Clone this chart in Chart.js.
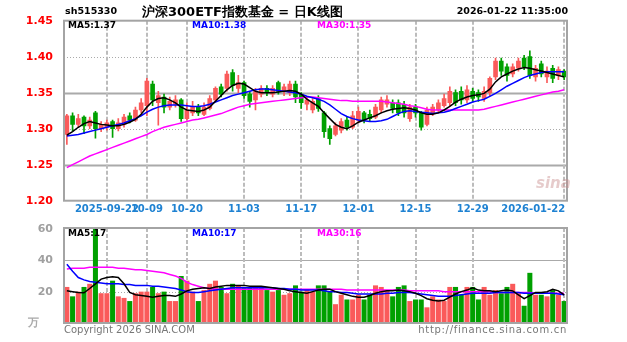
<!DOCTYPE html>
<html>
<head>
<meta charset="utf-8">
<script src="https://cdn.jsdelivr.net/npm/chart.js@4.4.1/dist/chart.umd.min.js"></script>
<style>
  body { margin: 0; background: #fff; }
  #wrap { position: relative; width: 627px; height: 342px; overflow: hidden; font-family: "DejaVu Sans", sans-serif; }
  canvas { position: absolute; left: 0; top: 0; }
  .txt { position: absolute; white-space: nowrap; font-weight: bold; line-height: 1; }
</style>
</head>
<body>
<div id="wrap">
  <canvas id="kline" width="627" height="342"></canvas>
  <canvas id="vol" width="627" height="342"></canvas>

  <div class="txt" style="left:65px;top:6px;font-size:9.5px;color:#000">sh515330</div>
  <div class="txt" style="left:142px;top:5px;font-size:13px;color:#000">沪深300ETF指数基金 = 日K线图</div>
  <div class="txt" style="right:59px;top:6px;font-size:9.5px;color:#000">2026-01-22 11:35:00</div>

  <div class="txt" style="left:68px;top:21px;font-size:9px;color:#000">MA5:1.37</div>
  <div class="txt" style="left:192px;top:21px;font-size:9px;color:#0000ff">MA10:1.38</div>
  <div class="txt" style="left:317px;top:21px;font-size:9px;color:#ff00ff">MA30:1.35</div>

  <div class="txt" style="left:68px;top:229px;font-size:9px;color:#000">MA5:17</div>
  <div class="txt" style="left:192px;top:229px;font-size:9px;color:#0000ff">MA10:17</div>
  <div class="txt" style="left:317px;top:229px;font-size:9px;color:#ff00ff">MA30:16</div>

  <div class="txt" style="left:536px;top:176px;font-size:15px;font-style:italic;color:rgba(200,140,140,0.45)">sina</div>

  <div class="txt" style="left:28px;top:317px;font-size:11px;color:#aaa">万</div>
  <div class="txt" style="left:64px;top:325px;font-size:10px;font-weight:normal;color:#777">Copyright 2026 SINA.COM</div>
  <div class="txt" style="right:60px;top:325px;font-size:10px;font-weight:normal;letter-spacing:0.7px;color:#777">http://finance.sina.com.cn</div>
</div>

<script>
// trading days shown on the daily K chart
const dates = [
  '2025-09-11','2025-09-12','2025-09-15','2025-09-16','2025-09-17','2025-09-18','2025-09-19',
  '2025-09-22','2025-09-23','2025-09-24','2025-09-25','2025-09-26','2025-09-29','2025-09-30',
  '2025-10-09','2025-10-10','2025-10-13','2025-10-14','2025-10-15','2025-10-16','2025-10-17',
  '2025-10-20','2025-10-21','2025-10-22','2025-10-23','2025-10-24','2025-10-27','2025-10-28',
  '2025-10-29','2025-10-30','2025-10-31',
  '2025-11-03','2025-11-04','2025-11-05','2025-11-06','2025-11-07','2025-11-10','2025-11-11',
  '2025-11-12','2025-11-13','2025-11-14','2025-11-17','2025-11-18','2025-11-19','2025-11-20',
  '2025-11-21','2025-11-24','2025-11-25','2025-11-26','2025-11-27','2025-11-28',
  '2025-12-01','2025-12-02','2025-12-03','2025-12-04','2025-12-05','2025-12-08','2025-12-09',
  '2025-12-10','2025-12-11','2025-12-12','2025-12-15','2025-12-16','2025-12-17','2025-12-18',
  '2025-12-19','2025-12-22','2025-12-23','2025-12-24','2025-12-25','2025-12-26','2025-12-29',
  '2025-12-30','2025-12-31',
  '2026-01-05','2026-01-06','2026-01-07','2026-01-08','2026-01-09','2026-01-12','2026-01-13',
  '2026-01-14','2026-01-15','2026-01-16','2026-01-19','2026-01-20','2026-01-21','2026-01-22'
];

const tickDates = ['2025-09-22','2025-10-09','2025-10-20','2025-11-03','2025-11-17','2025-12-01','2025-12-15','2025-12-29','2026-01-22'];
const tickTexts = ['2025-09-22','10-09','10-20','11-03','11-17','12-01','12-15','12-29','2026-01-22'];
const priceTicks = [1.20, 1.25, 1.30, 1.35, 1.40, 1.45];
const volTicks = [20, 40, 60];

const opens = [
  1.292,1.318,1.306,1.316,1.304,1.322,1.300,1.302,1.310,1.300,1.306,1.318,1.312,1.326,
  1.332,1.362,1.336,1.344,1.330,1.334,1.340,1.314,1.322,1.330,1.320,1.328,1.340,1.358,
  1.356,1.378,1.356,1.364,1.348,1.340,1.348,1.356,1.348,1.364,1.352,1.350,1.362,1.348,
  1.334,1.326,1.342,1.322,1.300,1.292,1.298,1.312,1.302,1.312,1.322,1.320,1.316,1.326,
  1.334,1.336,1.336,1.334,1.314,1.330,1.322,1.306,1.322,1.326,1.332,1.336,1.350,1.352,
  1.340,1.352,1.350,1.342,1.350,1.372,1.394,1.386,1.376,1.384,1.398,1.400,1.372,1.390,
  1.372,1.384,1.374,1.380
];
const highs = [
  1.320,1.322,1.320,1.318,1.316,1.324,1.310,1.312,1.312,1.314,1.320,1.322,1.330,1.342,
  1.370,1.366,1.352,1.348,1.344,1.346,1.342,1.336,1.338,1.334,1.336,1.346,1.358,1.362,
  1.380,1.382,1.374,1.366,1.352,1.356,1.360,1.360,1.360,1.366,1.362,1.366,1.366,1.350,
  1.344,1.342,1.346,1.324,1.304,1.308,1.314,1.316,1.324,1.330,1.324,1.326,1.334,1.344,
  1.346,1.340,1.340,1.338,1.334,1.334,1.324,1.330,1.334,1.340,1.348,1.358,1.354,1.358,
  1.360,1.356,1.354,1.358,1.372,1.398,1.398,1.390,1.390,1.398,1.402,1.408,1.388,1.394,
  1.386,1.388,1.386,1.382
];
const lows = [
  1.278,1.297,1.302,1.293,1.300,1.287,1.296,1.298,1.288,1.297,1.302,1.308,1.310,1.322,
  1.318,1.332,1.305,1.322,1.326,1.330,1.310,1.312,1.318,1.318,1.318,1.326,1.338,1.344,
  1.352,1.352,1.350,1.342,1.330,1.326,1.344,1.346,1.344,1.348,1.346,1.346,1.336,1.328,
  1.326,1.322,1.324,1.288,1.278,1.290,1.294,1.298,1.300,1.308,1.308,1.310,1.314,1.322,
  1.330,1.322,1.318,1.316,1.310,1.316,1.298,1.304,1.318,1.322,1.330,1.332,1.332,1.334,
  1.336,1.338,1.338,1.338,1.346,1.368,1.374,1.366,1.372,1.380,1.382,1.370,1.366,1.372,
  1.364,1.364,1.368,1.368
];
const closes = [
  1.318,1.306,1.314,1.304,1.312,1.300,1.306,1.308,1.300,1.308,1.316,1.312,1.326,1.336,
  1.366,1.340,1.346,1.330,1.338,1.340,1.314,1.326,1.330,1.322,1.330,1.342,1.356,1.348,
  1.376,1.360,1.364,1.346,1.338,1.352,1.356,1.350,1.356,1.352,1.358,1.362,1.344,1.336,
  1.340,1.338,1.328,1.296,1.286,1.304,1.310,1.302,1.318,1.324,1.312,1.314,1.330,1.340,
  1.340,1.328,1.322,1.322,1.330,1.322,1.302,1.326,1.330,1.336,1.342,1.352,1.336,1.340,
  1.354,1.342,1.344,1.352,1.370,1.394,1.380,1.374,1.386,1.394,1.386,1.374,1.384,1.376,
  1.380,1.370,1.382,1.372
];

// price moving averages
const ma5 = [
  1.291,1.296,1.302,1.307,1.310,1.308,1.306,1.305,1.304,1.304,1.306,1.309,1.313,1.320,
  1.330,1.338,1.342,1.343,1.340,1.336,1.330,1.326,1.325,1.324,1.326,1.330,1.338,1.346,
  1.354,1.360,1.363,1.362,1.357,1.352,1.350,1.350,1.350,1.351,1.352,1.353,1.352,1.348,
  1.341,1.336,1.331,1.322,1.314,1.306,1.302,1.300,1.304,1.309,1.312,1.315,1.318,1.322,
  1.325,1.327,1.328,1.329,1.328,1.326,1.322,1.320,1.320,1.322,1.326,1.331,1.337,1.341,
  1.344,1.346,1.347,1.349,1.355,1.365,1.372,1.376,1.380,1.383,1.385,1.384,1.382,1.380,
  1.378,1.376,1.374,1.372
];
const ma10 = [
  1.290,1.291,1.292,1.294,1.296,1.298,1.300,1.302,1.304,1.306,1.308,1.311,1.314,1.318,
  1.323,1.327,1.330,1.332,1.333,1.333,1.333,1.332,1.331,1.331,1.332,1.334,1.337,1.340,
  1.343,1.346,1.348,1.350,1.352,1.354,1.355,1.355,1.354,1.353,1.352,1.351,1.350,1.348,
  1.345,1.343,1.341,1.338,1.333,1.327,1.321,1.317,1.314,1.312,1.311,1.310,1.310,1.311,
  1.313,1.317,1.321,1.324,1.325,1.324,1.323,1.322,1.321,1.322,1.323,1.325,1.328,1.331,
  1.334,1.337,1.339,1.341,1.345,1.349,1.354,1.359,1.363,1.367,1.371,1.374,1.376,1.378,
  1.379,1.379,1.379,1.379
];
const ma30 = [
  1.246,1.250,1.254,1.258,1.262,1.265,1.268,1.271,1.274,1.277,1.280,1.283,1.286,1.289,
  1.292,1.296,1.299,1.302,1.304,1.306,1.308,1.310,1.312,1.313,1.315,1.317,1.319,1.321,
  1.324,1.327,1.330,1.332,1.334,1.335,1.336,1.337,1.338,1.339,1.340,1.341,1.342,1.343,
  1.344,1.344,1.343,1.342,1.341,1.340,1.339,1.339,1.338,1.338,1.338,1.338,1.338,1.338,
  1.337,1.336,1.335,1.334,1.332,1.331,1.329,1.327,1.326,1.326,1.326,1.326,1.326,1.326,
  1.326,1.326,1.326,1.327,1.329,1.331,1.333,1.335,1.337,1.339,1.341,1.343,1.345,1.347,
  1.349,1.351,1.352,1.354
];

// volume (万手) and its moving averages
const volumes = [
  23,17,20,23,25,61,19,19,27,17,16,14,19,20,
  20,23,19,20,14,14,30,27,20,14,21,25,27,23,
  19,25,24,23,23,23,23,21,20,21,18,19,24,20,
  21,20,24,24,20,12,18,15,15,18,15,18,24,23,
  21,17,23,24,14,15,15,10,17,15,14,23,23,18,
  23,23,15,23,18,21,19,23,25,19,11,32,18,18,
  17,21,18,14
];
const volMa5 = [
  20.5,20,19.5,19.3,22,25,28,29,29.5,29,25,19.5,18,17.5,
  17,16.5,17,17.5,17.5,17,18.5,20.5,21.5,22,22.5,22,23,23.5,
  24,24,24,24,23.5,23.5,23.5,23,22.5,22,21.5,20.5,20,19.5,
  19,20,21,21.5,21.5,20,19,18,17,16.5,16.5,17.5,19,20,
  20.5,20.5,21,20.5,20,19,17.5,15.5,14.5,14,14.5,16.5,18.5,20,
  21,22.5,21,20.5,20.5,20,20.5,21,20.5,18,15.5,17.5,19.5,19.5,
  20,21.5,20.5,18
];
const volMa10 = [
  37.5,33,29,27.5,26.5,26,25.5,25,25,25,24.5,24.5,24,24,
  24,23.5,23.5,23,22.5,22,21,20,19.5,19.5,20,20.5,21,21.5,
  22,22.5,22.5,22.5,22.5,22.5,22.5,22.5,22.5,22,22,21.5,21.5,21,
  21,21,21,20.5,20,20,19.5,19.5,19,18.5,18.5,18.5,18.5,18.5,
  19,19,19.5,19.5,19.5,19,18.5,18,17.5,17,17,17,17.5,18,
  18.5,19,19,19,19,19.5,19.5,19.5,19.5,19.5,19,19,19,19,
  19,19,18.5,18
];
const volMa30 = [
  34.5,35,35,35,35.5,35.5,35.5,35.5,35.5,35,35,34.5,34,34,
  33.5,33,32.5,32,31,30,28.5,26,24.5,23.5,22.5,22,21.5,21.5,
  21.5,21.5,21.5,21.5,21.5,21.5,21.5,21.5,21.5,21.5,21.5,21.5,21.5,21.5,
  21.5,21.5,21.5,21.5,21.5,21.5,21.5,21,21,21,21,21,21,21,
  21,21,21,21,20.5,20.5,20.5,20.5,20.5,20.5,20,20,20,20,
  20,20,20,20,20,19.5,19.5,19.5,19.5,19.5,19.5,19.5,19,19,
  19,19,19,19
];

const upColor = 'rgb(250,90,90)';
const downColor = 'rgb(0,160,0)';
const candleColors = closes.map((c, i) => c >= opens[i] ? upColor : downColor);
const FONT = '"DejaVu Sans", sans-serif';

// dashed date columns, horizontal guides, panel frame and date captions
const panelGrid = {
  id: 'panelGrid',
  beforeDatasetsDraw(chart, args, opts) {
    const { ctx, chartArea: a, scales: { x, y } } = chart;
    ctx.save();
    opts.rows.forEach(r => {
      const py = Math.round(y.getPixelForValue(r.value)) + 0.5;
      ctx.beginPath();
      ctx.strokeStyle = r.color;
      ctx.lineWidth = r.width;
      ctx.setLineDash(r.dash);
      ctx.moveTo(a.left, py);
      ctx.lineTo(a.right, py);
      ctx.stroke();
    });
    ctx.strokeStyle = '#bcbcbc';
    ctx.lineWidth = 2;
    ctx.setLineDash([4, 2]);
    tickDates.forEach(d => {
      const px = Math.round(x.getPixelForValue(dates.indexOf(d)));
      ctx.beginPath();
      ctx.moveTo(px, a.top);
      ctx.lineTo(px, a.bottom);
      ctx.stroke();
    });
    ctx.restore();
  },
  afterDraw(chart, args, opts) {
    const { ctx, chartArea: a, scales: { x } } = chart;
    ctx.save();
    ctx.strokeStyle = '#a4a4a4';
    ctx.lineWidth = 2;
    ctx.setLineDash([]);
    ctx.strokeRect(a.left, a.top, a.width, a.height);
    if (opts.dateLabels) {
      ctx.font = 'bold 10px ' + FONT;
      ctx.fillStyle = '#1f82d2';
      ctx.textBaseline = 'middle';
      tickDates.forEach((d, k) => {
        const idx = dates.indexOf(d);
        const last = idx === dates.length - 1;
        ctx.textAlign = last ? 'right' : 'center';
        ctx.fillText(tickTexts[k], x.getPixelForValue(idx) + (last ? 1 : 0), a.bottom + 9);
      });
    }
    ctx.restore();
  }
};

function maLine(label, data, color) {
  return {
    type: 'line', label, data,
    borderColor: color, borderWidth: 1.5,
    pointRadius: 0, tension: 0, order: 1
  };
}

new Chart(document.getElementById('kline'), {
  type: 'bar',
  data: {
    labels: dates,
    datasets: [
      maLine('MA5', ma5, '#000000'),
      maLine('MA10', ma10, '#0000ff'),
      maLine('MA30', ma30, '#ff00ff'),
      {
        label: 'shadow',
        data: lows.map((l, i) => [l, highs[i]]),
        backgroundColor: candleColors,
        barThickness: 1, grouped: false, order: 3
      },
      {
        label: 'body',
        data: opens.map((o, i) => [o, closes[i]]),
        backgroundColor: candleColors,
        barThickness: 4, grouped: false, order: 2
      }
    ]
  },
  options: {
    responsive: false,
    animation: false,
    layout: { padding: { left: 0, right: 60, top: 20.7, bottom: 141.3 } },
    plugins: {
      legend: { display: false },
      tooltip: { enabled: false },
      panelGrid: {
        dateLabels: true,
        rows: [
          { value: 1.25, color: '#aaaaaa', width: 2, dash: [] },
          { value: 1.30, color: '#aaaaaa', width: 1, dash: [1, 2] },
          { value: 1.35, color: '#aaaaaa', width: 2, dash: [] },
          { value: 1.40, color: '#aaaaaa', width: 1, dash: [1, 2] }
        ]
      }
    },
    scales: {
      x: { display: false, offset: true },
      y: {
        min: 1.20, max: 1.45,
        afterFit: s => { s.width = 64; },
        afterBuildTicks: s => { s.ticks = priceTicks.map(v => ({ value: v })); },
        ticks: {
          color: '#ff0000', padding: 3,
          font: { family: FONT, size: 11, weight: 'bold' },
          callback: v => Number(v).toFixed(2)
        },
        grid: { display: false },
        border: { display: false }
      }
    }
  },
  plugins: [panelGrid]
});

new Chart(document.getElementById('vol'), {
  type: 'bar',
  data: {
    labels: dates,
    datasets: [
      maLine('MA5', volMa5, '#000000'),
      maLine('MA10', volMa10, '#0000ff'),
      maLine('MA30', volMa30, '#ff00ff'),
      {
        label: 'volume',
        data: volumes,
        backgroundColor: candleColors,
        barPercentage: 1, categoryPercentage: 0.88, order: 2
      }
    ]
  },
  options: {
    responsive: false,
    animation: false,
    layout: { padding: { left: 0, right: 60, top: 228, bottom: 19 } },
    plugins: {
      legend: { display: false },
      tooltip: { enabled: false },
      panelGrid: {
        dateLabels: false,
        rows: [
          { value: 20, color: '#aaaaaa', width: 1, dash: [1, 2] },
          { value: 40, color: '#aaaaaa', width: 1, dash: [] }
        ]
      }
    },
    scales: {
      x: { display: false, offset: true },
      y: {
        min: 0, max: 60.6,
        afterFit: s => { s.width = 64; },
        afterBuildTicks: s => { s.ticks = volTicks.map(v => ({ value: v })); },
        ticks: {
          color: '#a0a0a0', padding: 3,
          font: { family: FONT, size: 11, weight: 'bold' }
        },
        grid: { display: false },
        border: { display: false }
      }
    }
  },
  plugins: [panelGrid]
});
</script>
</body>
</html>
